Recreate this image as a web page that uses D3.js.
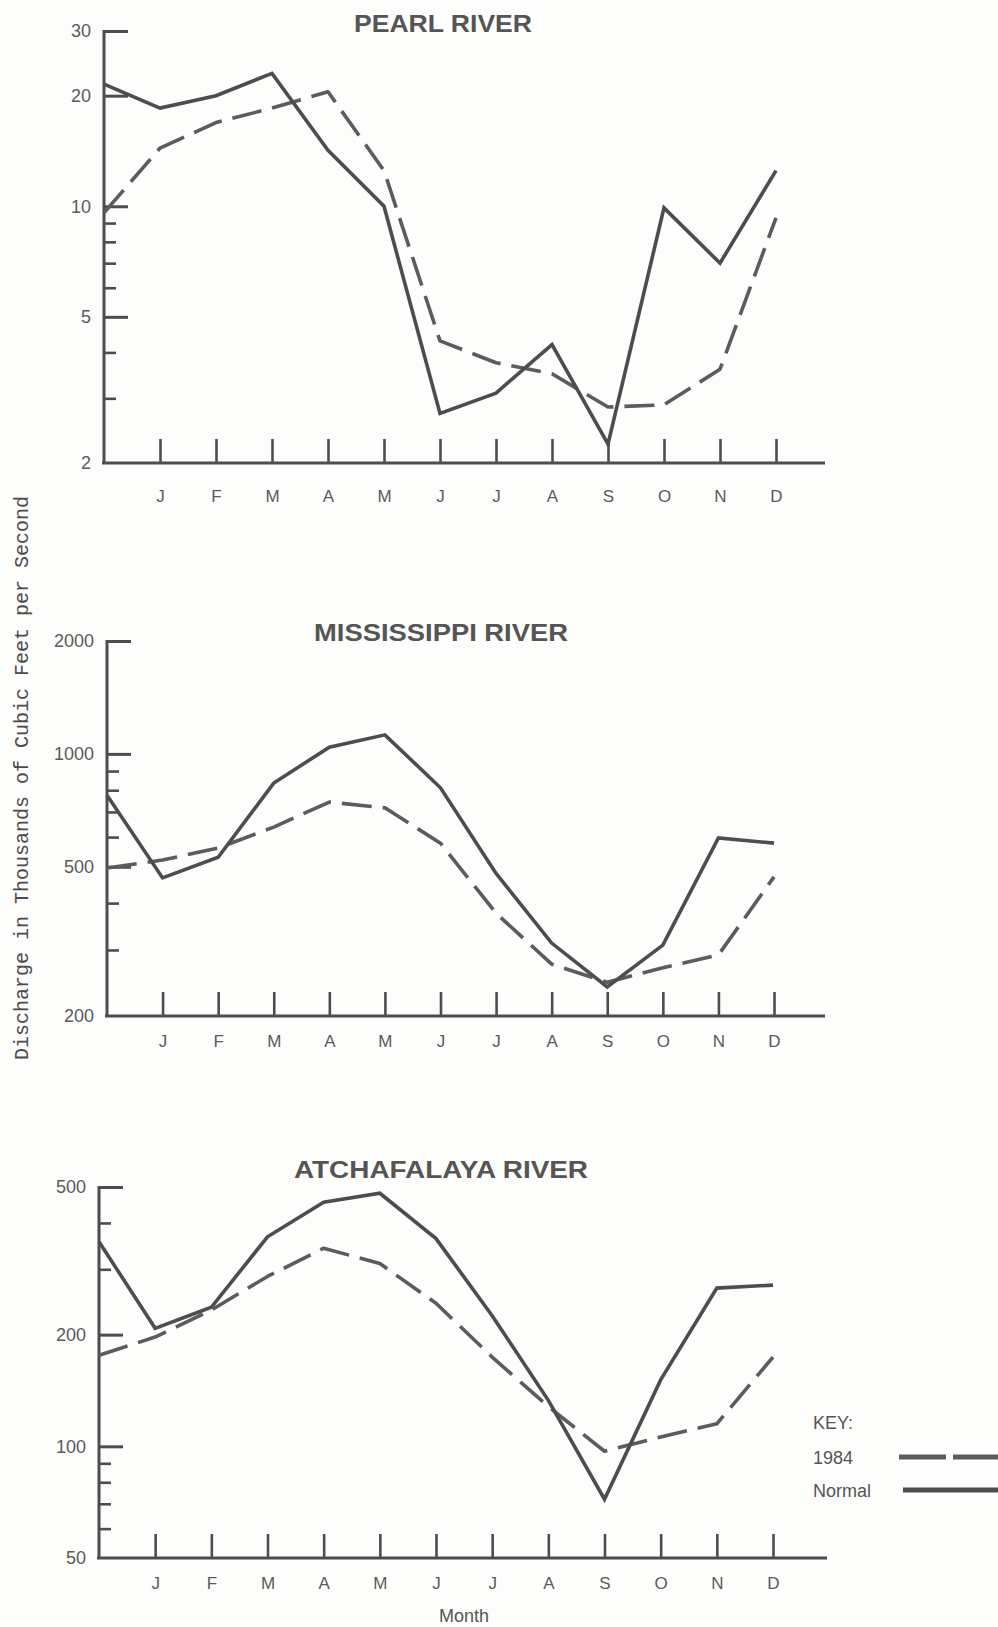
<!DOCTYPE html>
<html>
<head>
<meta charset="utf-8">
<script src="https://cdn.jsdelivr.net/npm/d3@7"></script>
<style>
  body { margin: 0; background: #fdfdfc; }
  svg { display: block; }
  .tick text { font-family: 'Liberation Sans', Arial, sans-serif; fill: #5a5a5a; }
</style>
</head>
<body>
<div id="chart"></div>
<script>
// month ticks; index 0 of every series sits on the y axis (previous December)
const months = ['J', 'F', 'M', 'A', 'M', 'J', 'J', 'A', 'S', 'O', 'N', 'D']

const pearlNormal = [21.5, 18.5, 20, 23, 14.2, 10, 2.73, 3.1, 4.2, 2.25, 9.9, 7.0, 12.5]
const pearl1984 = [9.6, 14.4, 16.9, 18.5, 20.5, 12.5, 4.3, 3.75, 3.5, 2.84, 2.88, 3.6, 9.3]
const pearlMajor = [30, 20, 10, 5, 2]
const pearlMinor = [9, 8, 7, 6, 4, 3]

const missNormal = [776, 467, 530, 836, 1042, 1124, 812, 480, 313, 239, 309, 597, 578]
const miss1984 = [496, 521, 561, 638, 744, 718, 578, 376, 275, 246, 269, 291, 470]
const missMajor = [2000, 1000, 500, 200]
const missMinor = [900, 800, 700, 600, 400, 300]

const atchNormal = [356, 208, 237, 367, 455, 481, 363, 225, 133, 72, 151, 267, 272]
const atch1984 = [176, 197, 233, 287, 342, 311, 243, 174, 128, 97, 106, 115, 174]
const atchMajor = [500, 200, 100, 50]
const atchMinor = [400, 300, 90, 80, 70, 60]

const W = 998
const H = 1627
const INK = '#4d4d4d'
const LINE_W = 3.6
const DASH = '30,11'

const panels = [
  {title: 'PEARL RIVER', titleX: 443, titleY: 32, titleW: 178, normal: pearlNormal, y84: pearl1984,
    major: pearlMajor, minor: pearlMinor, x0: 104, x1: 776, xEnd: 825, yTop: 31, yBot: 463, labelGap: 39},
  {title: 'MISSISSIPPI RIVER', titleX: 441, titleY: 641, titleW: 254, normal: missNormal, y84: miss1984,
    major: missMajor, minor: missMinor, x0: 107, x1: 774, xEnd: 825, yTop: 641, yBot: 1016, labelGap: 31},
  {title: 'ATCHAFALAYA RIVER', titleX: 441, titleY: 1178, titleW: 294, normal: atchNormal, y84: atch1984,
    major: atchMajor, minor: atchMinor, x0: 99, x1: 773, xEnd: 827, yTop: 1187, yBot: 1558, labelGap: 31}
]

const svg = d3.select('#chart').append('svg')
  .attr('width', W).attr('height', H)

panels.forEach(drawPanel)

function drawPanel (p) {
  const x = d3.scaleLinear().domain([0, 12]).range([p.x0, p.x1])
  const y = d3.scaleLog().domain([d3.min(p.major), d3.max(p.major)]).range([p.yBot, p.yTop])
  const g = svg.append('g')

  // y axis: long ticks with labels, short ticks without
  g.append('g')
    .attr('transform', `translate(${p.x0},0)`)
    .call(d3.axisLeft(y).tickValues(p.major.slice(0, -1)).tickSize(-24).tickSizeOuter(0).tickPadding(13).tickFormat(d3.format('d')))
    .call(sel => {
      sel.select('.domain').remove()
      sel.selectAll('line').attr('stroke', INK).attr('stroke-width', 3)
      sel.selectAll('text').attr('font-size', 18)
    })
  g.append('g')
    .attr('transform', `translate(${p.x0},0)`)
    .call(d3.axisLeft(y).tickValues(p.minor).tickSize(-12).tickFormat(''))
    .call(sel => {
      sel.select('.domain').remove()
      sel.selectAll('line').attr('stroke', INK).attr('stroke-width', 2.6)
    })
  g.append('text')
    .attr('x', p.x0 - 13).attr('y', p.yBot).attr('dy', '0.32em')
    .attr('text-anchor', 'end').attr('font-size', 18).attr('fill', '#5a5a5a')
    .attr('font-family', "'Liberation Sans', Arial, sans-serif")
    .text(d3.min(p.major))
  g.append('line')
    .attr('x1', p.x0).attr('x2', p.x0).attr('y1', p.yTop - 1).attr('y2', p.yBot)
    .attr('stroke', INK).attr('stroke-width', 3)

  // x axis: month ticks pointing up, labels under the baseline
  g.append('g')
    .attr('transform', `translate(0,${p.yBot})`)
    .call(d3.axisBottom(x).tickValues(d3.range(1, 13)).tickSize(-24).tickPadding(p.labelGap).tickFormat(i => months[i - 1]))
    .call(sel => {
      sel.select('.domain').remove()
      sel.selectAll('line').attr('stroke', INK).attr('stroke-width', 2.6)
      sel.selectAll('text').attr('font-size', 17).attr('dy', 0)
    })
  g.append('line')
    .attr('x1', p.x0 - 2).attr('x2', p.xEnd).attr('y1', p.yBot).attr('y2', p.yBot)
    .attr('stroke', INK).attr('stroke-width', 3)

  const line = d3.line().x((d, i) => x(i)).y(d => y(d))

  g.append('path')
    .datum(p.y84)
    .attr('d', line).attr('fill', 'none')
    .attr('stroke', '#5c5c5c').attr('stroke-width', LINE_W)
    .attr('stroke-dasharray', DASH).attr('stroke-linejoin', 'round')

  g.append('path')
    .datum(p.normal)
    .attr('d', line).attr('fill', 'none')
    .attr('stroke', INK).attr('stroke-width', LINE_W).attr('stroke-linejoin', 'miter')

  g.append('text')
    .attr('x', p.titleX).attr('y', p.titleY)
    .attr('text-anchor', 'middle')
    .attr('font-family', "'Liberation Sans', Arial, sans-serif")
    .attr('font-weight', 'bold').attr('font-size', 23).attr('fill', '#555')
    .attr('textLength', p.titleW).attr('lengthAdjust', 'spacingAndGlyphs')
    .text(p.title)
}

// shared y title
svg.append('text')
  .attr('transform', 'translate(28,778) rotate(-90)')
  .attr('text-anchor', 'middle')
  .attr('font-family', "'Liberation Mono', 'DejaVu Sans Mono', monospace")
  .attr('font-size', 20).attr('fill', '#4a4a4a')
  .text('Discharge in Thousands of Cubic Feet per Second')

svg.append('text')
  .attr('x', 464).attr('y', 1622)
  .attr('text-anchor', 'middle')
  .attr('font-family', "'Liberation Sans', Arial, sans-serif")
  .attr('font-size', 18).attr('fill', '#555')
  .text('Month')

// key
const key = svg.append('g')
  .attr('font-family', "'Liberation Sans', Arial, sans-serif")
  .attr('font-size', 18).attr('fill', '#555')
key.append('text').attr('x', 813).attr('y', 1429).text('KEY:')
key.append('text').attr('x', 813).attr('y', 1464).text('1984')
key.append('text').attr('x', 813).attr('y', 1497).text('Normal')
key.append('line')
  .attr('x1', 899).attr('x2', W).attr('y1', 1457).attr('y2', 1457)
  .attr('stroke', '#5c5c5c').attr('stroke-width', 5).attr('stroke-dasharray', '47,7')
key.append('line')
  .attr('x1', 903).attr('x2', W).attr('y1', 1490).attr('y2', 1490)
  .attr('stroke', INK).attr('stroke-width', 5)
</script>
</body>
</html>
